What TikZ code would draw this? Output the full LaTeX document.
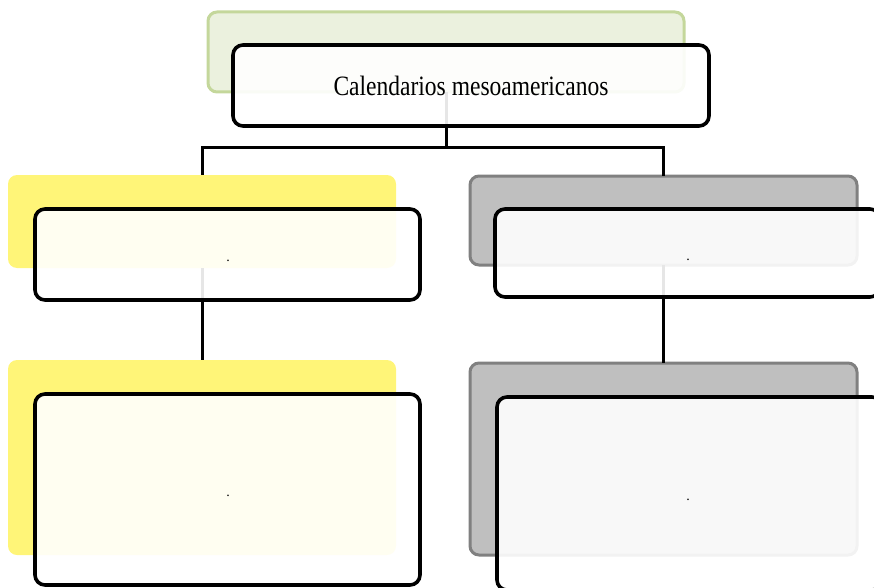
\documentclass[tikz,border=0pt]{standalone}
\usepackage{fontspec}
\setmainfont{Liberation Serif}
\usetikzlibrary{positioning}
\definecolor{greenfill}{RGB}{235,241,222}
\definecolor{greenline}{RGB}{196,215,155}
\definecolor{yellowfill}{RGB}{255,245,120}
\definecolor{grayfill}{RGB}{191,191,191}
\definecolor{grayline}{RGB}{128,128,128}
\tikzset{
  backbox/.style={rectangle, rounded corners=9pt, inner sep=0pt, outer sep=0pt},
  frontbox/.style={rectangle, rounded corners=10pt, draw=black, line width=3.6pt, fill=white, fill opacity=0.9, text opacity=1, inner sep=0pt, outer sep=0pt},
  conn/.style={draw=black, line width=3pt},
  dottext/.style={font=\fontsize{14}{14}\selectfont, inner sep=0pt}
}
\begin{document}
\begin{tikzpicture}[x=1pt,y=-1pt]
\useasboundingbox (0,0) rectangle (874,588);
% back shapes
\node[backbox, fill=greenfill, draw=greenline, line width=3pt, minimum width=476pt, minimum height=80pt] (g) at (446,52) {};
\node[backbox, fill=yellowfill, minimum width=388pt, minimum height=93pt] (yt) at (202,221.5) {};
\node[backbox, fill=grayfill, draw=grayline, line width=3pt, minimum width=387pt, minimum height=89pt] (gt) at (663.5,220.5) {};
\node[backbox, fill=yellowfill, minimum width=388pt, minimum height=195pt] (yb) at (202,457.5) {};
\node[backbox, fill=grayfill, draw=grayline, line width=3pt, minimum width=387pt, minimum height=192pt] (gb) at (663.5,459) {};
% connectors
\coordinate (hub) at (446,148);
\draw[conn] (g.south) -- (hub);
\draw[conn] (hub) -| (yt.north);
\draw[conn] (hub) -| (gt.north);
\draw[conn] (yt.south) -- (yb.north);
\draw[conn] (gt.south) -- (gb.north);
% front boxes
\node[frontbox, minimum width=476pt, minimum height=81pt] (t) at (471,85.5) {};
\node at (t.center) [inner sep=0pt] (title) {\scalebox{0.84}[1]{\fontsize{28}{30}\selectfont Calendarios mesoamericanos}};
\node[frontbox, minimum width=385pt, minimum height=91pt] (lt) at (227.5,254.5) {};
\node[frontbox, minimum width=385pt, minimum height=88pt] (rt) at (687.5,253) {};
\node[frontbox, minimum width=385pt, minimum height=191pt] (lb) at (227.5,489.5) {};
\node[frontbox, minimum width=385pt, minimum height=193pt] (rb) at (689.5,493.5) {};
\node[dottext] (ltd) at (228,261) {.};
\node[dottext] (rtd) at (688,260) {.};
\node[dottext] (lbd) at (228,496) {.};
\node[dottext] (rbd) at (688,500) {.};
\end{tikzpicture}
\end{document}
